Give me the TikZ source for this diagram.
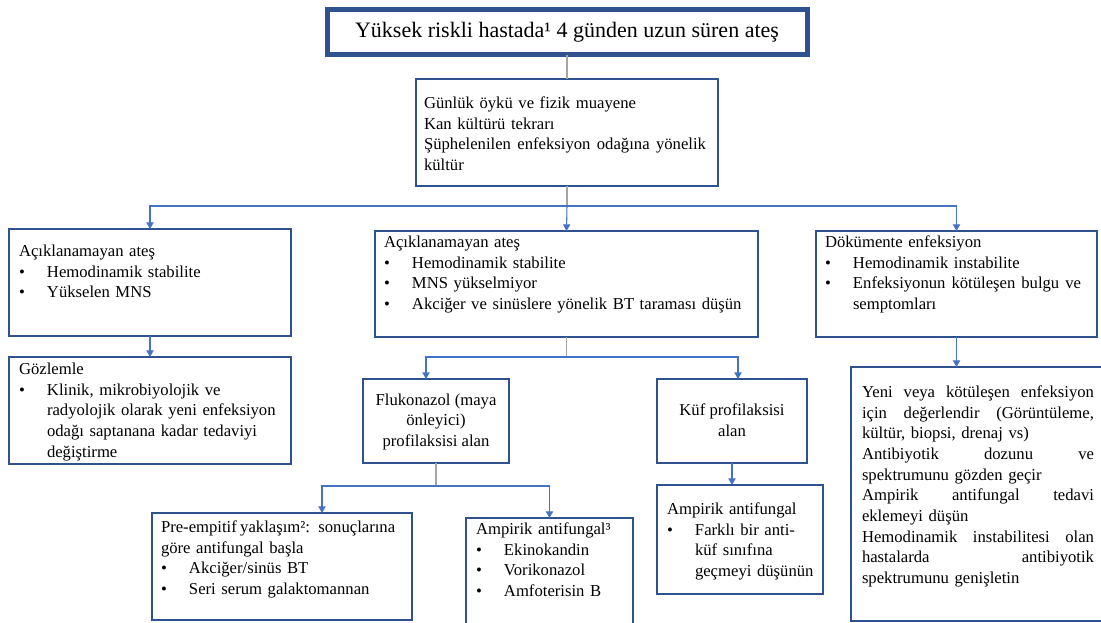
\documentclass[tikz,border=0pt]{standalone}
\usepackage{fontspec}
\setmainfont{Liberation Serif}
\usetikzlibrary{arrows.meta,calc}
\definecolor{boxc}{HTML}{2F528F}
\definecolor{arrc}{HTML}{4472C4}
\definecolor{stemc}{HTML}{A5A5A5}
\newlength\bind
\setlength\bind{21pt}
\newcommand\fs{\fontsize{12.5}{15.5}\selectfont\parindent=0pt\raggedright}
\newcommand\bitem[1]{\par\noindent\strut\makebox[\bind][l]{\textbullet}\parbox[t]{\dimexpr\hsize-\bind\relax}{\raggedright\strut #1\strut}}
\newcommand\jf[2]{\hbox to #1{\spaceskip=0.25em plus 2em minus 0.05em #2}}
\newcommand\pbox[6][]{\pgfmathsetmacro\bw{(#5-#3)*0.75}\pgfmathsetmacro\bh{(#6-#4)*0.75}%
  \node[box,minimum width=\bw pt,minimum height=\bh pt,anchor=north west,#1] (#2) at (#3,#4) {};}
\begin{document}
\begin{tikzpicture}[x=0.75pt,y=-0.75pt,
  box/.style={draw=boxc,line width=1.1pt,inner sep=0pt,outer sep=0pt,fill=white},
  txt/.style={anchor=north west,inner sep=0pt,outer sep=0pt,text width=#1,font=\fs},
  ctxt/.style={inner sep=0pt,outer sep=0pt,align=center,font=\fs},
  stem/.style={draw=stemc,line width=0.8pt},
  arr/.style={draw=arrc,line width=0.8pt,-{Triangle[width=5.5pt,length=5pt]}}]
\useasboundingbox (0,0) rectangle (1101,623);
\fill[white] (0,0) rectangle (1101,623);
% boxes
\pbox[line width=3.75pt]{T}{327}{10}{807}{55}
\pbox{P}{416}{79}{718}{186}
\pbox{A}{9}{229}{291}{336}
\pbox{B}{375}{231}{758}{337}
\pbox{C}{816}{231}{1097}{337}
\pbox{G}{9}{357}{291}{464}
\pbox{F}{363}{379}{509}{463}
\pbox{K}{657}{379}{807}{463}
\pbox{D}{851}{367}{1106}{621}
\pbox{Pre}{152}{513}{412}{620}
\pbox{AT}{466}{518}{633}{628}
\pbox{AK}{657}{485}{823}{594}
% texts
\node[ctxt,font=\fontsize{16.5}{19}\selectfont] (tT) at (T.center) {Yüksek riskli hastada¹ 4 günden uzun süren ateş};
\node[txt=211.5pt] (tP) at (424,94) {\strut Günlük öykü ve fizik muayene\\
\strut Kan kültürü tekrarı\\
\strut\jf{211.5pt}{Şüphelenilen enfeksiyon odağına yönelik}\\
\strut kültür};
\node[txt=198.75pt] (tA) at (19,242) {\strut Açıklanamayan ateş
\bitem{Hemodinamik stabilite}
\bitem{Yükselen MNS}};
\node[txt=273.75pt] (tB) at (384,233) {\strut Açıklanamayan ateş
\bitem{Hemodinamik stabilite}
\bitem{MNS yükselmiyor}
\bitem{Akciğer ve sinüslere yönelik BT taraması düşün}};
\node[txt=192pt] (tC) at (825,233) {\strut Dökümente enfeksiyon
\bitem{Hemodinamik instabilite}
\bitem{\jf{171pt}{Enfeksiyonun kötüleşen bulgu ve}\\semptomları}};
\node[txt=196pt] (tG) at (19,360) {\strut Gözlemle
\bitem{Klinik, mikrobiyolojik ve\\\strut radyolojik olarak yeni enfeksiyon\\\strut odağı saptanana kadar tedaviyi\\\strut değiştirme}};
\node[ctxt] (tF) at ([yshift=-0.6pt]F.center) {\strut Flukonazol (maya\\\strut önleyici)\\\strut profilaksisi alan};
\node[ctxt] (tK) at ([yshift=-0.6pt]K.center) {\strut Küf profilaksisi\\\strut alan};
\node[txt=175.5pt] (tPre) at (161,518) {\strut\jf{175pt}{Pre-empitif yaklaşım²: sonuçlarına}\\
\strut göre antifungal başla
\bitem{Akciğer/sinüs BT}
\bitem{Seri serum galaktomannan}};
\node[txt=115pt] (tAT) at (476,520) {\strut Ampirik antifungal³
\bitem{Ekinokandin}
\bitem{Vorikonazol}
\bitem{Amfoterisin B}};
\node[txt=115pt] (tAK) at (667,500) {\strut Ampirik antifungal
\bitem{Farklı bir anti-\\\strut küf sınıfına\\\strut geçmeyi düşünün}};
\node[txt=174pt] (tD) at (862,383) {\strut\jf{174pt}{Yeni veya kötüleşen enfeksiyon}\\
\strut\jf{174pt}{için değerlendir (Görüntüleme,}\\
\strut kültür, biopsi, drenaj vs)\\
\strut\jf{174pt}{Antibiyotik dozunu ve}\\
\strut spektrumunu gözden geçir\\
\strut\jf{174pt}{Ampirik antifungal tedavi}\\
\strut eklemeyi düşün\\
\strut\jf{174pt}{Hemodinamik instabilitesi olan}\\
\strut\jf{174pt}{hastalarda antibiyotik}\\
\strut spektrumunu genişletin};
% connectors
\draw[stem] (T.south) -- (P.north);
\draw[stem] (P.south) -- ++(0,20) coordinate (j1);
\draw[arr] (j1) -| (A.north);
\draw[arr] (j1) -| (C.north);
\draw[arr] (j1) -- (B.north);
\draw[arr] (A.south) -- (G.north);
\draw[arr] (C.south) -- (C.south |- D.north);
\draw[stem] (B.south) -- ++(0,20) coordinate (j2);
\draw[arr] (j2) -| ([xshift=-7.5pt]F.north);
\draw[arr] (j2) -| ([xshift=4.5pt]K.north);
\draw[stem] (F.south) -- ++(0,23) coordinate (j3);
\draw[arr] (j3) -| ([xshift=30pt]Pre.north);
\draw[arr] (j3) -| (AT.north);
\draw[arr] (K.south) -- (K.south |- AK.north);
\end{tikzpicture}
\end{document}
